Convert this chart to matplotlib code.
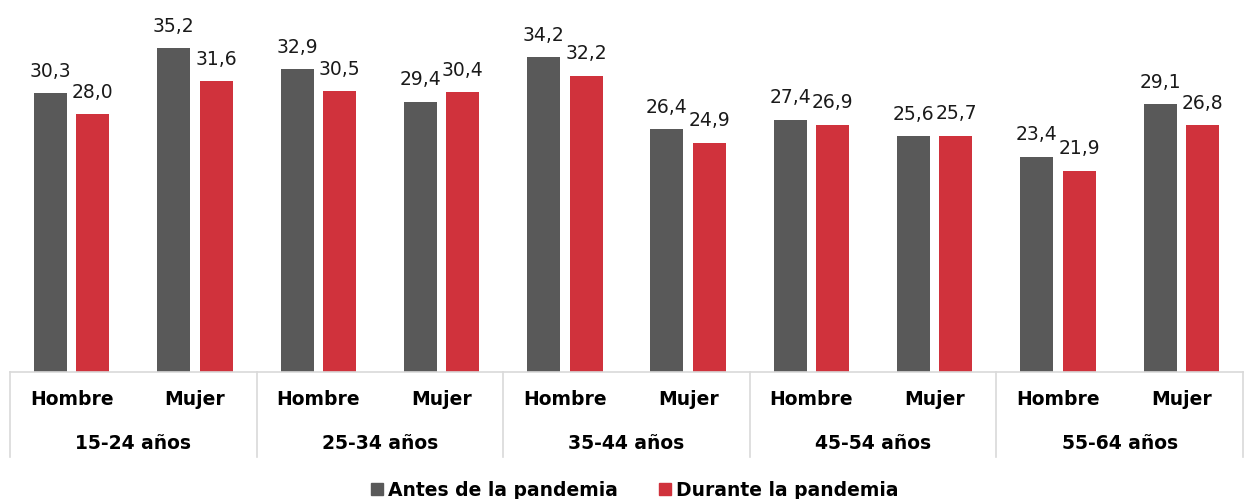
import matplotlib
matplotlib.use("Agg")
import matplotlib.pyplot as plt
from matplotlib.patches import Patch
from matplotlib.transforms import blended_transform_factory

groups = ["15-24 años", "25-34 años", "35-44 años", "45-54 años", "55-64 años"]
sexes = ["Hombre", "Mujer"]
antes = [30.3, 35.2, 32.9, 29.4, 34.2, 26.4, 27.4, 25.6, 23.4, 29.1]
durante = [28.0, 31.6, 30.5, 30.4, 32.2, 24.9, 26.9, 25.7, 21.9, 26.8]
series_names = ["Antes de la pandemia", "Durante la pandemia"]

GRAY = "#595959"
RED = "#D0323C"
SEP = "#D9D9D9"

plt.rcParams['font.family'] = ['DejaVu Sans']

fig = plt.figure(figsize=(12.44, 4.99), dpi=100)
ax = fig.add_axes([10/1244, 1-372/499, 1233/1244, 368/499])

n = len(antes)
xs = list(range(n))
w = 0.268
off = 0.172
b1 = ax.bar([x - off for x in xs], antes, width=w, color=GRAY)
b2 = ax.bar([x + off for x in xs], durante, width=w, color=RED)

def fmt(v):
    return f"{v:.1f}".replace(".", ",")

for bars, vals in ((b1, antes), (b2, durante)):
    for r, v in zip(bars, vals):
        ax.annotate(fmt(v), (r.get_x() + r.get_width()/2, v), xytext=(0, 9),
                    textcoords="offset points", ha="center", va="bottom",
                    fontsize=13.5, color="#1a1a1a")

ax.set_xlim(-0.5, n - 0.5)
ax.set_ylim(0, 40)
for s in ("left", "top", "right"):
    ax.spines[s].set_visible(False)
ax.spines["bottom"].set_color(SEP)
ax.spines["bottom"].set_linewidth(1.2)
ax.set_xticks([])
ax.set_yticks([])

tr = blended_transform_factory(ax.transData, ax.transAxes)
for i in range(n):
    ax.text(i, -0.076, sexes[i % 2], transform=tr, ha="center", va="center",
            fontsize=13.5, fontweight="bold", color="black")
for g, name in enumerate(groups):
    ax.text(2*g + 0.5, -0.193, name, transform=tr, ha="center", va="center",
            fontsize=13.5, fontweight="bold", color="black")
for g in range(len(groups) + 1):
    ax.plot([2*g - 0.5, 2*g - 0.5], [0, -0.231], transform=tr, color=SEP,
            lw=1.2, clip_on=False)

handles = [Patch(color=GRAY), Patch(color=RED)]
fig.legend(handles, series_names, loc="center", bbox_to_anchor=(635/1244, 1-490/499),
           ncol=2, frameon=False, prop={'weight': 'bold', 'size': 13.5},
           handlelength=0.65, handleheight=0.65, handletextpad=0.25, columnspacing=2.2,
           borderpad=0)

fig.savefig("out.png", dpi=100)
